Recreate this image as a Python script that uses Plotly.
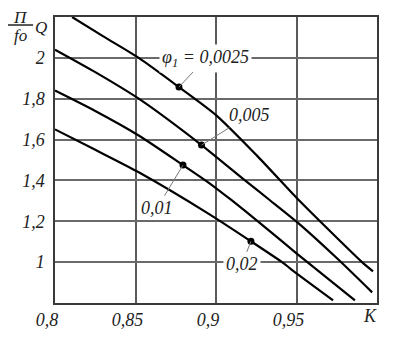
import plotly.graph_objects as go

# ---- data ----
k_c1 = [0.8106, 0.83, 0.852, 0.877, 0.90, 0.925, 0.95, 0.9646, 0.9907, 0.9975]
q_c1 = [2.20, 2.105, 2.00, 1.857, 1.72, 1.525, 1.315, 1.20, 1.00, 0.955]

k_c2 = [0.80, 0.825, 0.852, 0.891, 0.918, 0.9335, 0.952, 0.975, 0.997]
q_c2 = [2.04, 1.93, 1.80, 1.573, 1.40, 1.303, 1.185, 1.02, 0.852]

k_c3 = [0.80, 0.825, 0.852, 0.8795, 0.896, 0.9097, 0.926, 0.95, 0.9863]
q_c3 = [1.84, 1.74, 1.62, 1.475, 1.386, 1.303, 1.20, 1.043, 0.813]

k_c4 = [0.80, 0.825, 0.852, 0.896, 0.9217, 0.941, 0.95, 0.9727]
q_c4 = [1.65, 1.55, 1.44, 1.234, 1.102, 1.00, 0.945, 0.813]

marker_k = [0.877, 0.891, 0.8795, 0.9217]
marker_q = [1.857, 1.573, 1.475, 1.102]
marker_labels = ["φ<sub>1</sub> = 0,0025", "0,005", "0,01", "0,02"]

x_tickvals = [0.8, 0.85, 0.9, 0.95]
x_ticktext = ["0,8", "0,85", "0,9", "0,95"]
y_tickvals = [1.0, 1.2, 1.4, 1.6, 1.8, 2.0]
y_ticktext = ["1", "1,2", "1,4", "1,6", "1,8", "2"]

FONT = "Liberation Serif"


def tf(size=18):
    return dict(family=FONT, size=size, style="italic", color="#222")


fig = go.Figure()
for kk, qq in [(k_c1, q_c1), (k_c2, q_c2), (k_c3, q_c3), (k_c4, q_c4)]:
    fig.add_trace(go.Scatter(x=kk, y=qq, mode="lines",
                             line=dict(color="black", width=2.2, shape="spline", smoothing=0.7),
                             hoverinfo="skip", showlegend=False))

fig.add_trace(go.Scatter(x=marker_k, y=marker_q, mode="markers",
                         marker=dict(color="black", size=7), showlegend=False, hoverinfo="skip"))

offsets = [(27, -29), (48, -30), (-26, 43), (-9, 23)]
bgs = ["white", "rgba(0,0,0,0)", "rgba(0,0,0,0)", "white"]
for i, lab in enumerate(marker_labels):
    ax, ay = offsets[i]
    fig.add_annotation(x=marker_k[i], y=marker_q[i], text=lab, showarrow=True,
                       arrowhead=0, arrowwidth=1, arrowcolor="#777", ax=ax, ay=ay,
                       standoff=0, bgcolor=bgs[i], borderpad=2, font=tf(18))

# axis titles
fig.add_annotation(xref="paper", yref="paper", x=-0.106, y=1.0, text="П", showarrow=False,
                   xanchor="center", yanchor="middle", font=tf(17))
fig.add_annotation(xref="paper", yref="paper", x=-0.106, y=0.934, text="fo", showarrow=False,
                   xanchor="center", yanchor="middle", font=tf(17))
fig.add_annotation(xref="paper", yref="paper", x=-0.045, y=0.965, text="Q", showarrow=False,
                   xanchor="center", yanchor="middle", font=tf(17))
fig.add_shape(type="line", xref="paper", yref="paper", x0=-0.146, x1=-0.068, y0=0.972, y1=0.972,
              line=dict(color="#222", width=1.5))
fig.add_annotation(xref="paper", yref="paper", x=0.978, y=-0.045, text="K", showarrow=False,
                   xanchor="center", yanchor="middle", font=tf(18))

fig.update_xaxes(range=[0.8, 1.0], tickvals=x_tickvals, ticktext=x_ticktext,
                 showgrid=True, gridcolor="#5a5a5a", gridwidth=1.5, zeroline=False,
                 showline=True, mirror=True, linecolor="#3a3a3a", linewidth=1.5,
                 ticks="", ticklabelstandoff=0, ticklabelshift=-8, automargin=False,
                 tickfont=tf(18))
fig.update_yaxes(range=[0.8, 2.2], tickvals=y_tickvals, ticktext=y_ticktext,
                 showgrid=True, gridcolor="#6a6a6a", gridwidth=1.5, zeroline=False,
                 showline=True, mirror=True, linecolor="#3a3a3a", linewidth=1.5,
                 ticks="", ticklabelstandoff=5, automargin=False,
                 tickfont=tf(18))

# the page body has an 8px default margin; compensate in the plot margins
fig.update_layout(width=412, height=339, margin=dict(l=47, r=43, t=9, b=44, autoexpand=False),
                  plot_bgcolor="white", paper_bgcolor="white", showlegend=False,
                  font=dict(family=FONT))

fig.write_html("out.html")
